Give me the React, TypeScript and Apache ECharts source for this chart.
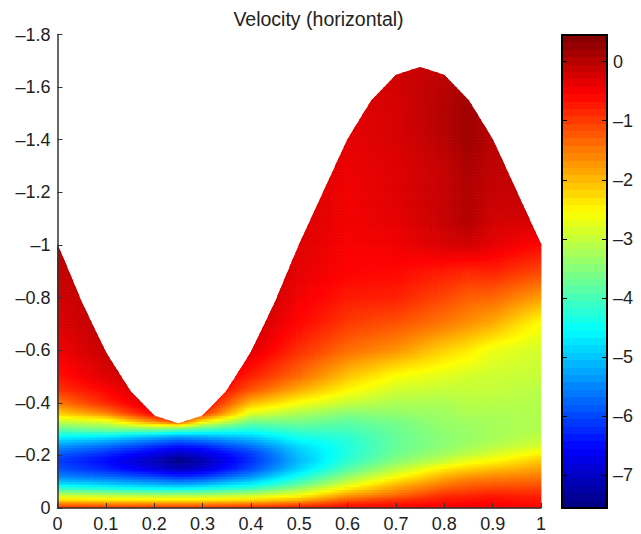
import React, { useEffect, useRef } from "react";
import * as echarts from "echarts";

const title = "Velocity (horizontal)";
const boundaryX = [0,0.05,0.1,0.15,0.2,0.25,0.3,0.35,0.4,0.45,0.5,0.55,0.6,0.65,0.7,0.75,0.8,0.85,0.9,0.95,1];
const boundaryDepth = [1,0.78,0.59,0.445,0.35,0.32,0.35,0.445,0.59,0.78,1,1.2,1.4,1.55,1.645,1.675,1.645,1.55,1.4,1.2,1];
const depths = [0,0.015,0.03,0.05,0.07,0.09,0.12,0.15,0.18,0.21,0.24,0.27,0.3,0.33,0.36,0.4,0.45,0.5,0.6,0.7,0.8,0.9,1,1.1,1.2,1.3,1.4,1.5,1.6,1.7];
const columnX = [0,0.1,0.2,0.25,0.3,0.4,0.5,0.6,0.7,0.8,0.85,0.9,1];
const col00 = [-0.9,-1.4,-2.2,-3,-3.9,-4.7,-5.5,-5.9,-6.1,-5.8,-5.3,-4.6,-3.8,-3,-2.2,-1.5,-0.95,-0.7,-0.45,-0.3,-0.2,-0.1,0,0,0,0,0,0,0,0];
const col10 = [-0.9,-1.5,-2.3,-3.1,-4.1,-4.9,-5.7,-6.3,-6.5,-6.2,-5.6,-4.8,-3.6,-2.8,-1.6,-0.85,-0.55,-0.3,-0.1,0,0,0,0,0,0,0,0,0,0,0];
const col20 = [-0.9,-1.5,-2.3,-3.2,-4.3,-5.1,-6,-6.8,-7.1,-6.7,-6.1,-5.2,-3.6,-1.6,-0.5,-0.2,-0.1,0,0,0,0,0,0,0,0,0,0,0,0,0];
const col25 = [-0.9,-1.5,-2.3,-3.2,-4.3,-5.2,-6.2,-7.1,-7.5,-7,-6.3,-5.4,-3.8,-1,-0.3,-0.1,0,0,0,0,0,0,0,0,0,0,0,0,0,0];
const col30 = [-0.9,-1.5,-2.3,-3.2,-4.2,-5.1,-6.1,-6.9,-7.2,-6.8,-6.2,-5.3,-4,-2.4,-0.9,-0.4,-0.2,-0.1,0,0,0,0,0,0,0,0,0,0,0,0];
const col40 = [-0.8,-1.4,-2.2,-3,-3.9,-4.6,-5.4,-6,-6.2,-6.1,-5.6,-5,-4.3,-3.6,-2.8,-2,-1.2,-0.8,-0.3,-0.1,0,0,0,0,0,0,0,0,0,0];
const col50 = [-0.7,-1.2,-1.9,-2.6,-3.2,-3.8,-4.4,-4.9,-5.1,-5,-4.8,-4.4,-4,-3.6,-3.2,-2.6,-1.9,-1.4,-0.9,-0.6,-0.45,-0.35,-0.3,-0.25,-0.25,-0.2,-0.2,-0.2,-0.2,-0.2];
const col60 = [-0.6,-0.8,-1.2,-1.8,-2.3,-2.8,-3.4,-3.9,-4.2,-4.3,-4.3,-4.2,-4,-3.8,-3.5,-3,-2.5,-2.1,-1.4,-1,-0.75,-0.55,-0.5,-0.45,-0.45,-0.4,-0.35,-0.3,-0.3,-0.3];
const col70 = [-0.55,-0.7,-0.9,-1.4,-1.7,-2,-2.6,-3.1,-3.5,-3.7,-3.75,-3.75,-3.7,-3.6,-3.4,-3.2,-2.9,-2.6,-1.7,-1.2,-0.8,-0.6,-0.45,-0.35,-0.3,-0.3,-0.25,-0.25,-0.2,-0.15];
const col80 = [-0.5,-0.6,-0.7,-0.9,-1.2,-1.5,-1.9,-2.4,-3,-3.3,-3.45,-3.45,-3.4,-3.35,-3.3,-3.2,-3,-2.8,-2.2,-1.5,-1.1,-0.75,-0.25,-0.1,-0.1,-0.1,0,0.05,0,-0.1];
const col85 = [-0.5,-0.55,-0.65,-0.85,-1.1,-1.3,-1.7,-2.2,-2.7,-3.1,-3.3,-3.35,-3.35,-3.3,-3.2,-3.1,-3,-2.9,-2.4,-1.7,-1.3,-0.85,-0.2,0.05,0.05,0.1,0.2,0.2,0.15,0.1];
const col90 = [-0.5,-0.55,-0.6,-0.75,-1,-1.25,-1.6,-2.05,-2.55,-2.9,-3.15,-3.25,-3.25,-3.25,-3.2,-3.1,-3,-2.95,-2.7,-1.9,-1.35,-0.8,-0.35,-0.2,-0.1,-0.05,0,0,0,0];
const col100 = [-0.6,-0.65,-0.7,-0.85,-1,-1.2,-1.5,-1.8,-2.1,-2.5,-2.9,-3.05,-3.15,-3.15,-3.15,-3.15,-3.1,-3,-2.9,-2.6,-1.8,-1.1,-0.6,-0.2,-0.1,-0.1,-0.1,-0.1,-0.1,-0.1];
const columns = [col00,col10,col20,col25,col30,col40,col50,col60,col70,col80,col85,col90,col100];
const colorMin = -7.55;
const colorMax = 0.45;
const colorbarTicks = [-7,-6,-5,-4,-3,-2,-1,0];
const colorbarLevels = 64;

function jet(v: number): string {
  const t = Math.max(0, Math.min(1, (v - colorMin) / (colorMax - colorMin)));
  const f = (c: number) => Math.round(255 * Math.max(0, Math.min(1, 1.5 - Math.abs(4 * t - c))));
  return `rgb(${f(3)},${f(2)},${f(1)})`;
}
function segment(xs: number[], x: number): [number, number] {
  let i = 0;
  while (i < xs.length - 2 && x > xs[i + 1]) i++;
  return [i, (x - xs[i]) / (xs[i + 1] - xs[i])];
}
function top(x: number): number {
  const [i, f] = segment(boundaryX, x);
  return boundaryDepth[i] + f * (boundaryDepth[i + 1] - boundaryDepth[i]);
}
function shade(x: number, d: number): number {
  const [i, f] = segment(columnX, x);
  const [j, g] = segment(depths, d);
  const a = columns[i][j] + g * (columns[i][j + 1] - columns[i][j]);
  const b = columns[i + 1][j] + g * (columns[i + 1][j + 1] - columns[i + 1][j]);
  return a + f * (b - a);
}
const minus = (s: string) => s.replace("-", "\u2013");
const font = "'Liberation Sans', Arial, sans-serif";
const ink = "#222";

export default function App() {
  const ref = useRef<HTMLDivElement>(null);
  useEffect(() => {
    const chart = echarts.init(ref.current!, undefined, { renderer: "svg" });
    const cells: number[][] = [];
    columnX.slice(0, -1).forEach((_, i) => depths.slice(0, -1).forEach((_, j) => cells.push([i, j])));
    const renderField = (params: any, api: any) => {
      const i = api.value(0), j = api.value(1);
      const x0 = columnX[i], x1 = columnX[i + 1], d0 = depths[j], d1 = depths[j + 1];
      const nx = Math.max(1, Math.round((x1 - x0) / 0.00625));
      const ny = Math.max(1, Math.ceil((d1 - d0) / 0.012));
      const children: any[] = [];
      for (let a = 0; a < nx; a++) {
        const xa = x0 + ((x1 - x0) * a) / nx, xb = x0 + ((x1 - x0) * (a + 1)) / nx;
        const ta = top(xa), tb = top(xb);
        for (let b = 0; b < ny; b++) {
          const da = d0 + ((d1 - d0) * b) / ny, db = d0 + ((d1 - d0) * (b + 1)) / ny;
          if (da >= Math.max(ta, tb)) continue;
          const color = jet(shade((xa + xb) / 2, (da + db) / 2));
          const pts = [[xa, Math.min(da, ta)], [xb, Math.min(da, tb)], [xb, Math.min(db, tb)], [xa, Math.min(db, ta)]]
            .map(([x, d]) => api.coord([x, -d]));
          children.push({ type: "polygon", shape: { points: pts }, style: { fill: color, stroke: color, lineWidth: 0.8 }, silent: true });
        }
      }
      return { type: "group", children };
    };
    const renderBar = (params: any, api: any) => {
      const k = api.value(0);
      const step = (colorMax - colorMin) / colorbarLevels;
      const p0 = api.coord([0, colorMin + k * step]);
      const p1 = api.coord([1, colorMin + (k + 1) * step]);
      const color = jet(colorMin + (k + 0.5) * step);
      const y0 = Math.round(p1[1]), y1 = Math.round(p0[1]);
      return { type: "rect", shape: { x: p0[0], y: y0, width: p1[0] - p0[0], height: y1 - y0 }, style: { fill: color } };
    };
    const labelStyle = { color: ink, fontFamily: font, fontSize: 18 };
    const barLine = { onZero: false, lineStyle: { color: "#000", width: 2 } };
    chart.setOption({
      animation: false,
      backgroundColor: "#fff",
      title: { text: title, left: 313.5, top: 4, textAlign: "center", textStyle: { color: ink, fontFamily: font, fontSize: 19.5, fontWeight: "normal" } },
      grid: [
        { left: 57.5, top: 34.5, width: 483.5, height: 473.5 },
        { left: 562, top: 35, width: 45, height: 473 },
      ],
      xAxis: [
        { gridIndex: 0, type: "value", min: 0, max: 1, interval: 0.1, z: 5, splitLine: { show: false },
          axisLine: { onZero: false, lineStyle: { color: "#333", width: 1.5 } }, axisTick: { inside: true, length: 5, lineStyle: { color: "#333" } },
          axisLabel: { ...labelStyle, margin: 7 } },
        { gridIndex: 1, type: "value", min: 0, max: 1, z: 5, position: "bottom", splitLine: { show: false }, axisTick: { show: false }, axisLabel: { show: false }, axisLine: barLine },
        { gridIndex: 1, type: "value", min: 0, max: 1, z: 5, position: "top", splitLine: { show: false }, axisTick: { show: false }, axisLabel: { show: false }, axisLine: barLine },
      ],
      yAxis: [
        { gridIndex: 0, type: "value", min: -1.8, max: 0, interval: 0.2, inverse: true, z: 5, splitLine: { show: false },
          axisLine: { onZero: false, lineStyle: { color: "#333", width: 1.5 } }, axisTick: { inside: true, length: 5, lineStyle: { color: "#333" } },
          axisLabel: { ...labelStyle, margin: 7, formatter: (v: number) => minus(String(v)) } },
        { gridIndex: 1, type: "value", min: colorMin, max: colorMax, position: "right", z: 5, splitLine: { show: false },
          axisLine: barLine, axisTick: { inside: true, length: 5, customValues: colorbarTicks, lineStyle: { color: "#000" } },
          axisLabel: { ...labelStyle, margin: 6, customValues: colorbarTicks, formatter: (v: number) => minus(String(v)) } },
        { gridIndex: 1, type: "value", min: colorMin, max: colorMax, position: "left", z: 5, splitLine: { show: false },
          axisLine: barLine, axisTick: { inside: true, length: 5, customValues: colorbarTicks, lineStyle: { color: "#000" } },
          axisLabel: { show: false } },
      ],
      series: [
        { type: "custom", xAxisIndex: 0, yAxisIndex: 0, silent: true, data: cells, renderItem: renderField, clip: false },
        { type: "custom", xAxisIndex: 1, yAxisIndex: 1, silent: true, data: Array.from({ length: colorbarLevels }, (_, k) => [k]), renderItem: renderBar },
      ],
    });
    return () => chart.dispose();
  }, []);
  return <div ref={ref} style={{ position: "fixed", left: 0, top: 0, width: 641, height: 534 }} />;
}
